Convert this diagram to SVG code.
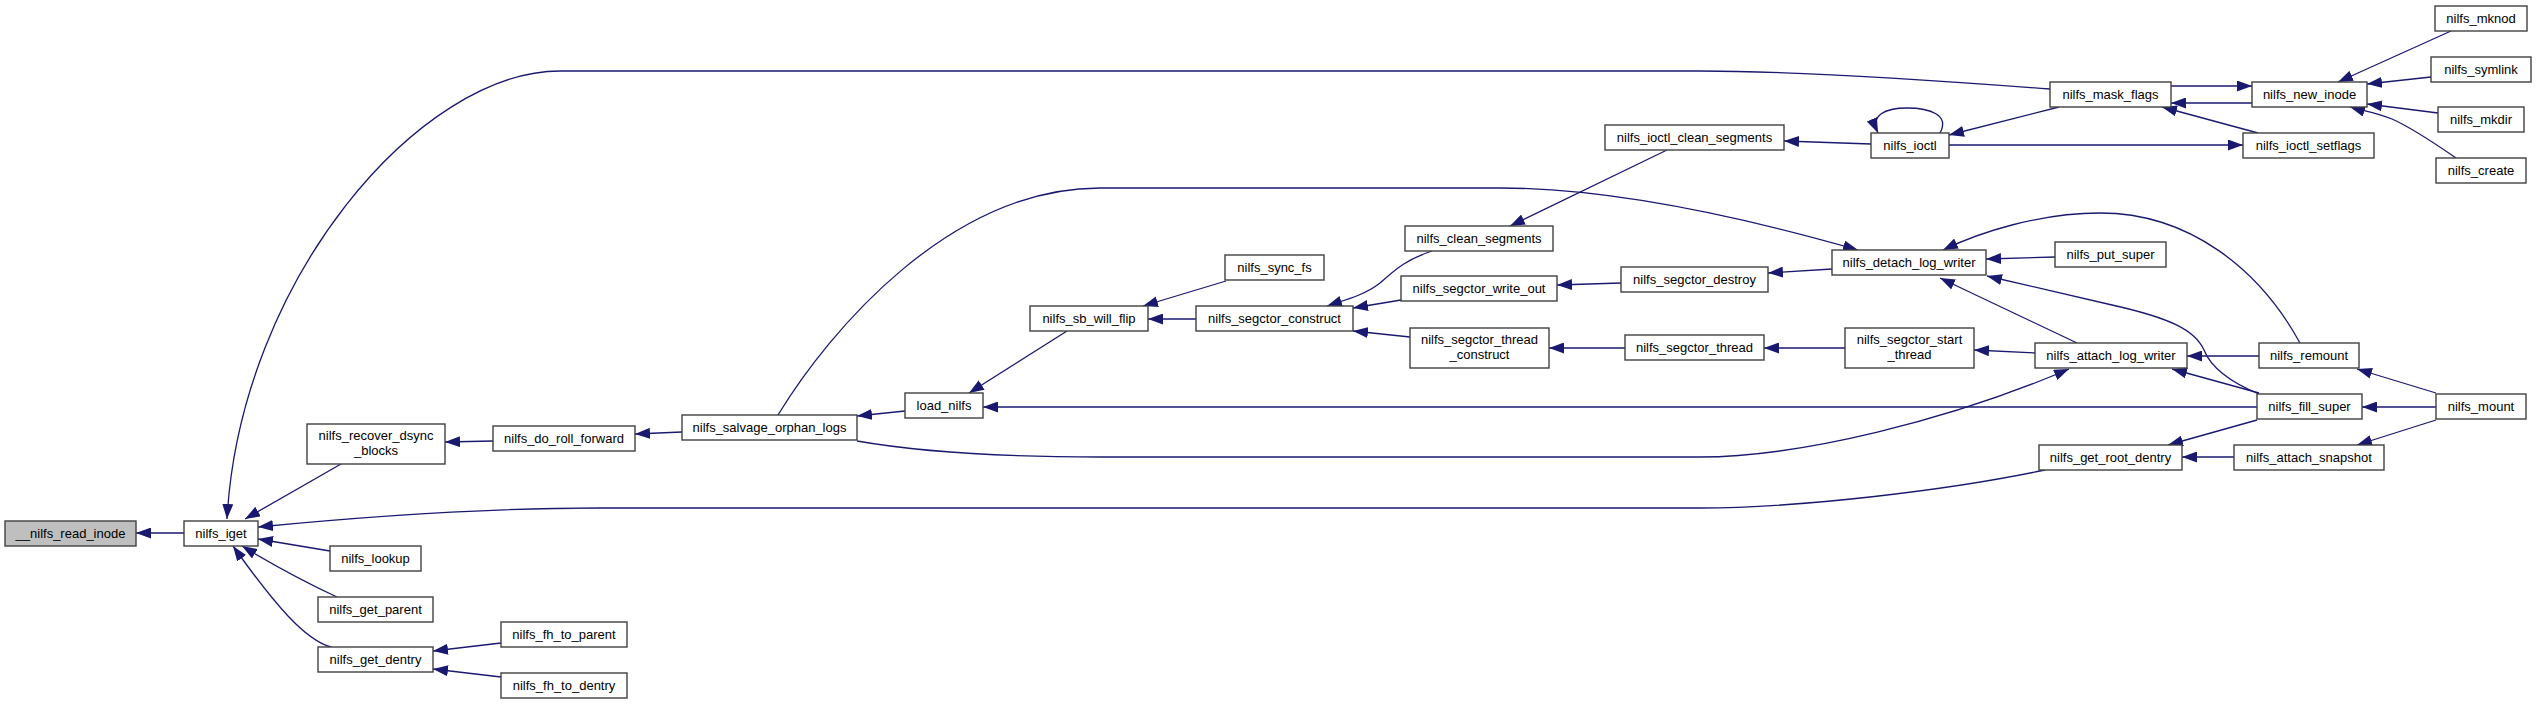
<svg xmlns="http://www.w3.org/2000/svg" width="2536" height="704" viewBox="0 0 2536 704">
<defs>
<marker id="ah" markerWidth="15" markerHeight="11" refX="15" refY="5.5" orient="auto" markerUnits="userSpaceOnUse">
<path d="M0,0 L15,5.5 L0,11 z" fill="#191970"/>
</marker>
<style>
.n rect{fill:#fff;stroke:#404040;stroke-width:1.4}
.root rect{fill:#bfbfbf}
text{font-family:"Liberation Sans",Arial,sans-serif;font-size:13px;text-anchor:middle;fill:#000}
.e path{fill:none;stroke:#191970;stroke-width:1.3;marker-end:url(#ah)}
</style>
</defs>
<rect width="2536" height="704" fill="#fff"/>
<g id="edges" class="e">
<path d="M184,533 L136,533"/>
<path d="M341,464 L245,519"/>
<path d="M2050,89 C1930,80 1780,71 1700,71 L560,71 C420,71 240,280 227,519"/>
<path d="M330,551 L258,539"/>
<path d="M337,597 Q290,575 242,546"/>
<path d="M331,647 C305,640 275,605 233,546"/>
<path d="M493,441 L445,442"/>
<path d="M501,643 L433,651"/>
<path d="M501,677 L433,669"/>
<path d="M682,432 L635,434"/>
<path d="M905,411 L857,416"/>
<path d="M2257,407 L983,407"/>
<path d="M778,415 C830,330 950,188 1100,188 L1500,188 C1620,188 1760,222 1858,250"/>
<path d="M857,441 C920,452 1000,457 1100,457 L1700,457 C1800,457 1950,420 2069,369"/>
<path d="M1067,331 L969,393"/>
<path d="M1196,319 L1148,319"/>
<path d="M1226,281 L1143,306"/>
<path d="M1432,251 C1405,260 1395,270 1380,283 C1365,295 1345,300 1327,306"/>
<path d="M1401,300 L1353,308"/>
<path d="M1410,337 L1353,331"/>
<path d="M1667,150 L1510,226"/>
<path d="M1871,144 L1784,141"/>
<path d="M1940,133 C1950,115 1930,108 1907,108 C1885,108 1870,115 1878,133"/>
<path d="M1621,283 L1557,285"/>
<path d="M1832,269 L1768,273"/>
<path d="M1625,348 L1549,348"/>
<path d="M1845,348 L1764,348"/>
<path d="M2035,353 L1974,350"/>
<path d="M2059,107 L1949,135"/>
<path d="M1949,145 L2243,145"/>
<path d="M2171,86 L2252,86"/>
<path d="M2252,103 L2171,103"/>
<path d="M2258,133 L2162,107"/>
<path d="M2451,31 L2338,82"/>
<path d="M2431,77 L2367,84"/>
<path d="M2438,113 L2367,104"/>
<path d="M2456,158 C2430,140 2410,127 2392,119 C2375,112 2360,110 2350,107"/>
<path d="M2055,257 L1986,259"/>
<path d="M2077,343 L1940,278"/>
<path d="M2259,394 C2225,380 2210,365 2204,350 C2195,330 2170,318 2112,305 C2060,293 2020,284 1987,276"/>
<path d="M2300,343 C2260,270 2190,213 2100,213 C2040,213 1980,232 1943,250"/>
<path d="M2259,356 L2187,356"/>
<path d="M2259,393 L2172,369"/>
<path d="M2257,420 L2168,445"/>
<path d="M2234,457 L2182,457"/>
<path d="M2436,393 L2357,369"/>
<path d="M2436,407 L2362,407"/>
<path d="M2436,420 L2357,445"/>
<path d="M2045,470 C1950,490 1800,508 1700,508 L600,508 C480,508 350,518 258,527"/>
</g>
<g id="nodes">
<g id="node-nilfs_read_inode" class="n root"><rect x="5" y="521" width="131" height="25"/><text x="70.5" y="538">__nilfs_read_inode</text></g>
<g id="node-nilfs_iget" class="n"><rect x="184" y="521" width="74" height="25"/><text x="221" y="538">nilfs_iget</text></g>
<g id="node-nilfs_recover_dsync_blocks" class="n"><rect x="307" y="424" width="138" height="40"/><text x="376" y="440">nilfs_recover_dsync</text><text x="376" y="455">_blocks</text></g>
<g id="node-nilfs_lookup" class="n"><rect x="330" y="546" width="91" height="25"/><text x="375.5" y="563">nilfs_lookup</text></g>
<g id="node-nilfs_get_parent" class="n"><rect x="318" y="597" width="115" height="25"/><text x="375.5" y="614">nilfs_get_parent</text></g>
<g id="node-nilfs_get_dentry" class="n"><rect x="318" y="647" width="115" height="25"/><text x="375.5" y="664">nilfs_get_dentry</text></g>
<g id="node-nilfs_do_roll_forward" class="n"><rect x="493" y="426" width="142" height="25"/><text x="564" y="443">nilfs_do_roll_forward</text></g>
<g id="node-nilfs_fh_to_parent" class="n"><rect x="501" y="622" width="126" height="25"/><text x="564" y="639">nilfs_fh_to_parent</text></g>
<g id="node-nilfs_fh_to_dentry" class="n"><rect x="501" y="673" width="126" height="25"/><text x="564" y="690">nilfs_fh_to_dentry</text></g>
<g id="node-nilfs_salvage_orphan_logs" class="n"><rect x="682" y="415" width="175" height="25"/><text x="769.5" y="432">nilfs_salvage_orphan_logs</text></g>
<g id="node-load_nilfs" class="n"><rect x="905" y="393" width="78" height="25"/><text x="944" y="410">load_nilfs</text></g>
<g id="node-nilfs_sb_will_flip" class="n"><rect x="1030" y="306" width="118" height="25"/><text x="1089" y="323">nilfs_sb_will_flip</text></g>
<g id="node-nilfs_sync_fs" class="n"><rect x="1225" y="255" width="99" height="25"/><text x="1274.5" y="272">nilfs_sync_fs</text></g>
<g id="node-nilfs_segctor_construct" class="n"><rect x="1196" y="306" width="157" height="25"/><text x="1274.5" y="323">nilfs_segctor_construct</text></g>
<g id="node-nilfs_clean_segments" class="n"><rect x="1405" y="226" width="148" height="25"/><text x="1479" y="243">nilfs_clean_segments</text></g>
<g id="node-nilfs_segctor_write_out" class="n"><rect x="1401" y="276" width="156" height="25"/><text x="1479" y="293">nilfs_segctor_write_out</text></g>
<g id="node-nilfs_segctor_thread_construct" class="n"><rect x="1410" y="328" width="139" height="40"/><text x="1479.5" y="344">nilfs_segctor_thread</text><text x="1479.5" y="359">_construct</text></g>
<g id="node-nilfs_ioctl_clean_segments" class="n"><rect x="1605" y="125" width="179" height="25"/><text x="1694.5" y="142">nilfs_ioctl_clean_segments</text></g>
<g id="node-nilfs_segctor_destroy" class="n"><rect x="1621" y="267" width="147" height="25"/><text x="1694.5" y="284">nilfs_segctor_destroy</text></g>
<g id="node-nilfs_segctor_thread" class="n"><rect x="1625" y="335" width="139" height="25"/><text x="1694.5" y="352">nilfs_segctor_thread</text></g>
<g id="node-nilfs_ioctl" class="n"><rect x="1871" y="133" width="78" height="25"/><text x="1910" y="150">nilfs_ioctl</text></g>
<g id="node-nilfs_detach_log_writer" class="n"><rect x="1832" y="250" width="154" height="25"/><text x="1909" y="267">nilfs_detach_log_writer</text></g>
<g id="node-nilfs_segctor_start_thread" class="n"><rect x="1845" y="328" width="129" height="40"/><text x="1909.5" y="344">nilfs_segctor_start</text><text x="1909.5" y="359">_thread</text></g>
<g id="node-nilfs_mask_flags" class="n"><rect x="2050" y="82" width="121" height="25"/><text x="2110.5" y="99">nilfs_mask_flags</text></g>
<g id="node-nilfs_put_super" class="n"><rect x="2055" y="242" width="111" height="25"/><text x="2110.5" y="259">nilfs_put_super</text></g>
<g id="node-nilfs_attach_log_writer" class="n"><rect x="2035" y="343" width="152" height="25"/><text x="2111" y="360">nilfs_attach_log_writer</text></g>
<g id="node-nilfs_get_root_dentry" class="n"><rect x="2039" y="445" width="143" height="25"/><text x="2110.5" y="462">nilfs_get_root_dentry</text></g>
<g id="node-nilfs_new_inode" class="n"><rect x="2252" y="82" width="115" height="25"/><text x="2309.5" y="99">nilfs_new_inode</text></g>
<g id="node-nilfs_ioctl_setflags" class="n"><rect x="2243" y="133" width="131" height="25"/><text x="2308.5" y="150">nilfs_ioctl_setflags</text></g>
<g id="node-nilfs_remount" class="n"><rect x="2259" y="343" width="100" height="25"/><text x="2309" y="360">nilfs_remount</text></g>
<g id="node-nilfs_fill_super" class="n"><rect x="2257" y="394" width="105" height="25"/><text x="2309.5" y="411">nilfs_fill_super</text></g>
<g id="node-nilfs_attach_snapshot" class="n"><rect x="2234" y="445" width="150" height="25"/><text x="2309" y="462">nilfs_attach_snapshot</text></g>
<g id="node-nilfs_mknod" class="n"><rect x="2435" y="6" width="92" height="25"/><text x="2481" y="23">nilfs_mknod</text></g>
<g id="node-nilfs_symlink" class="n"><rect x="2431" y="57" width="100" height="25"/><text x="2481" y="74">nilfs_symlink</text></g>
<g id="node-nilfs_mkdir" class="n"><rect x="2438" y="107" width="86" height="25"/><text x="2481" y="124">nilfs_mkdir</text></g>
<g id="node-nilfs_create" class="n"><rect x="2436" y="158" width="90" height="25"/><text x="2481" y="175">nilfs_create</text></g>
<g id="node-nilfs_mount" class="n"><rect x="2436" y="394" width="90" height="25"/><text x="2481" y="411">nilfs_mount</text></g>
</g>
</svg>
